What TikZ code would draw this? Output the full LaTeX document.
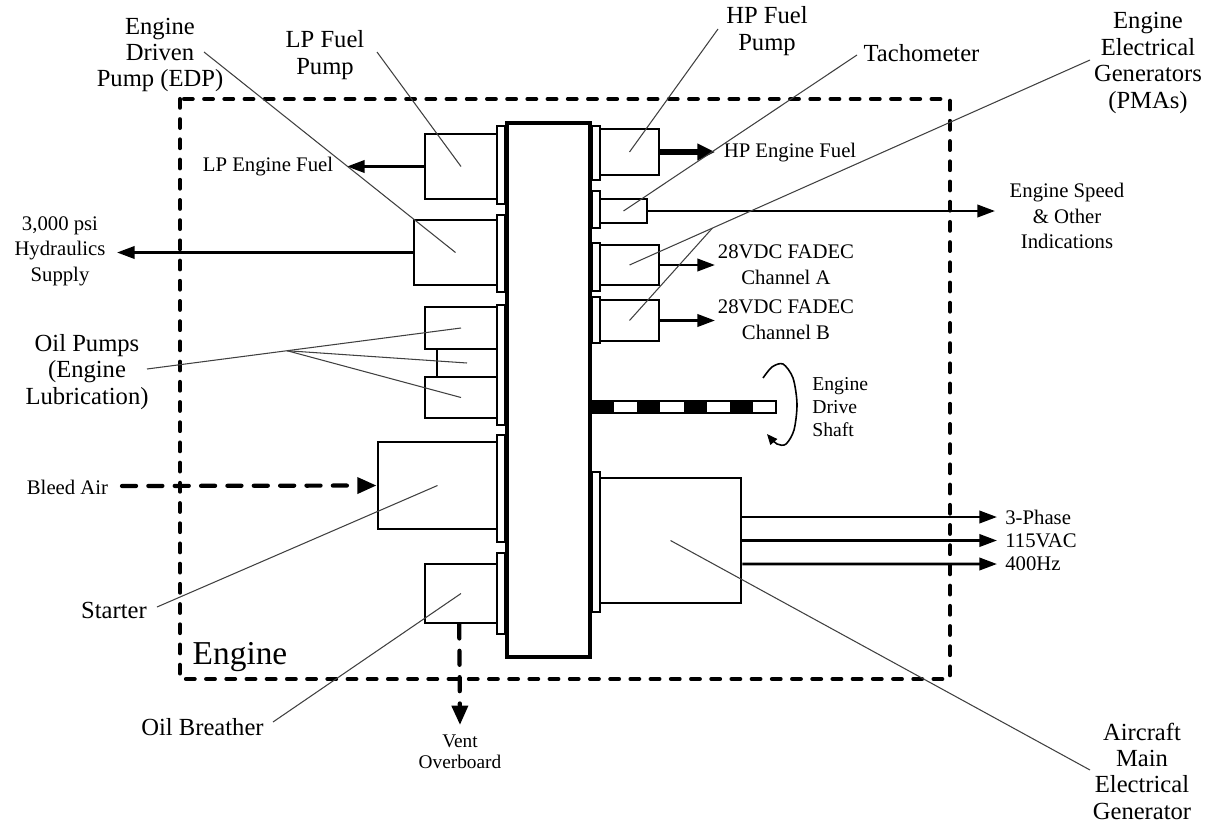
\documentclass[tikz,border=0pt]{standalone}
\usepackage{fontspec}
\setmainfont{Liberation Serif}
\usetikzlibrary{arrows.meta,calc}

\begin{document}
\begin{tikzpicture}[
  x=0.02cm, y=-0.02cm,
  big/.style={font=\fontsize{14}{15}\selectfont, align=center, inner sep=0pt},
  sml/.style={font=\fontsize{11.8}{14.5}\selectfont, align=center, inner sep=0pt},
  sz/.style 2 args={minimum width=#1*0.02cm, minimum height=#2*0.02cm},
  unit/.style={draw, fill=white, line width=1.6pt, inner sep=0pt},
  flange/.style={draw, fill=white, line width=1.2pt, inner sep=0pt},
  arr/.style={-{Triangle[length=10pt,width=7pt]}, line width=1.5pt},
  fatarr/.style={-{Triangle[length=10pt,width=9pt]}, line width=3pt},
  dasharr/.style={-{Triangle[length=11pt,width=9pt]}, line width=2.4pt,
                  line cap=round, dash pattern=on 8pt off 7pt},
  lead/.style={draw=black!75, line width=0.6pt},
]
\useasboundingbox (0,0) rectangle (1207,825);

% engine boundary
\draw[line width=2.3pt, line cap=round, dash pattern=on 5pt off 6.5pt]
  (180,99) rectangle (950,679);
\node[font=\fontsize{19}{20}\selectfont, inner sep=0pt] (englbl) at (240,657) {Engine};

% gearbox and mounting pads
\node[unit, sz={83}{534}, line width=2.5pt] (gbox) at (548.5,390) {};
\node[flange, sz={8}{78}]  (pl1) at (501,165) {};
\node[flange, sz={8}{77}]  (pl2) at (501,253.5) {};
\node[flange, sz={8}{120}] (pl3) at (501,365) {};
\node[flange, sz={8}{107}] (pl4) at (501,488.5) {};
\node[flange, sz={8}{81}]  (pl5) at (501,593.5) {};
\node[flange, sz={8}{54}]  (pr1) at (596,153) {};
\node[flange, sz={8}{37}]  (pr2) at (596,209.5) {};
\node[flange, sz={8}{48}]  (pr3) at (596,267) {};
\node[flange, sz={8}{46}]  (pr4) at (596,320) {};
\node[flange, sz={8}{140}] (pr5) at (596,542) {};

% accessories, left side
\node[unit, sz={72}{65}]  (lpf)  at (461,166.5) {};
\node[unit, sz={83}{65}]  (edp)  at (455.5,252.5) {};
\node[unit, sz={60}{28}]  (oil2) at (467,363) {};
\node[unit, sz={72}{42}]  (oil1) at (461,328) {};
\node[unit, sz={72}{41}]  (oil3) at (461,397.5) {};
\node[unit, sz={119}{87}] (strt) at (437.5,485.5) {};
\node[unit, sz={72}{59}]  (brth) at (461,593.5) {};

% accessories, right side
\node[unit, sz={59}{46}]   (hpf)  at (629.5,152) {};
\node[unit, sz={47}{24}]   (tach) at (623.5,211) {};
\node[unit, sz={59}{40}]   (pmaa) at (629.5,265) {};
\node[unit, sz={59}{41}]   (pmab) at (629.5,320.5) {};
\node[unit, sz={141}{125}] (gen)  at (670.5,540.5) {};

% drive shaft
\fill[white] (591,401) rectangle (776,413);
\foreach \i in {0,2,4,6}
  \fill (591+23.125*\i,401) rectangle ++(23.125,12);
\draw[line width=1pt] (591,401) rectangle (776,413);
\draw[line width=0.9pt, -{Triangle[length=6pt,width=5pt]}]
  plot[smooth] coordinates {(763,378) (772,367) (783,364) (793,378) (797,404)
                            (794,430) (786,444) (777,444) (767,434)};
\node[sml, font=\fontsize{11.2}{13}\selectfont, align=left, anchor=west] (shaftlbl)
  at (812,407) {Engine\\Drive\\Shaft};

% outputs
\coordinate (lpf-t)  at (347,166.5);
\coordinate (hyd-t)  at (117,252.5);
\coordinate (hpf-t)  at (715,152);
\coordinate (tach-t) at (995,211);
\coordinate (pmaa-t) at (715,265);
\coordinate (pmab-t) at (715,320.5);
\coordinate (bld-s)  at (122,486);
\coordinate (vent-t) at (460,725);
\draw[arr] (lpf.west) -- (lpf-t);
\draw[arr] (edp.west) -- (hyd-t);
\draw[fatarr] (hpf.east) -- (hpf-t);
\draw[arr] (tach.east) -- (tach-t);
\draw[arr] (pmaa.east) -- (pmaa-t);
\draw[arr] (pmab.east) -- (pmab-t);
\draw[arr] ($(gen.east)+(0,-23.5)$) -- (997,517);
\draw[arr] (gen.east) -- (997,540.5);
\draw[arr] ($(gen.east)+(0,23.5)$) -- (997,564);
\draw[dasharr] (bld-s) -- (strt.west);
\draw[dasharr] ([xshift=-1pt]brth.south) -- (vent-t);

\node[sml] (lpflbl)  at (268,167) {LP Engine Fuel};
\node[sml] (hydlbl)  at (60,251) {3,000 psi\\Hydraulics\\Supply};
\node[sml] (hpflbl)  at (790,153) {HP Engine Fuel};
\node[sml] (spdlbl)  at (1067,216) {Engine Speed\\\& Other\\Indications};
\node[sml] (chalbl)  at (786,264.5) {28VDC FADEC\\Channel A};
\node[sml] (chblbl)  at (786,319.5) {28VDC FADEC\\Channel B};
\node[sml] (bldlbl)  at (67.5,487) {Bleed Air};
\node[sml, font=\fontsize{11}{12}\selectfont] (ventlbl) at (460,752) {Vent\\Overboard};
\node[sml, anchor=west] (ph1) at (1005,517) {3-Phase};
\node[sml, anchor=west] (ph2) at (1005,540.5) {115VAC};
\node[sml, anchor=west] (ph3) at (1005,564) {400Hz};

% component names
\node[big] (edplbl)  at (160,55) {Engine\\Driven\\Pump (EDP)};
\node[big] (lpfname) at (325,55) {LP Fuel\\Pump};
\node[big] (hpfname) at (767,31) {HP Fuel\\Pump};
\node[big] (tachlbl) at (921.5,53) {Tachometer};
\node[big] (pmalbl)  at (1148,63) {Engine\\Electrical\\Generators\\(PMAs)};
\node[big] (oillbl)  at (87,372) {Oil Pumps\\(Engine\\Lubrication)};
\node[big] (strtlbl) at (114,610) {Starter};
\node[big] (brthlbl) at (202.5,727) {Oil Breather};
\node[big] (genlbl)  at (1142,771) {Aircraft\\Main\\Electrical\\Generator};

% leaders
\coordinate (edp-l)  at (204,52);
\coordinate (lpf-l)  at (377,52);
\coordinate (hpf-l)  at (718,29);
\coordinate (tach-l) at (857,55);
\coordinate (pma-l)  at (1090,60);
\coordinate (pma-j)  at ($(pma-l)!0.82!(pmaa.center)$);
\coordinate (oil-l)  at (147,369);
\coordinate (oil-j)  at ($(oil-l)!0.446!(oil1.center)$);
\coordinate (strt-l) at (157,607);
\coordinate (brth-l) at (273,722);
\coordinate (gen-l)  at (1090,770);
\draw[lead] (edp-l) -- (edp.center);
\draw[lead] (lpf-l) -- (lpf.center);
\draw[lead] (hpf-l) -- (hpf.center);
\draw[lead] (tach-l) -- (tach.center);
\draw[lead] (pma-l) -- (pmaa.center);
\draw[lead] (pma-j) -- (pmab.center);
\draw[lead] (oil-l) -- (oil1.center);
\draw[lead] (oil-j) -- (oil2.center);
\draw[lead] (oil-j) -- (oil3.center);
\draw[lead] (strt-l) -- (strt.center);
\draw[lead] (brth-l) -- (brth.center);
\draw[lead] (gen-l) -- (gen.center);
\end{tikzpicture}
\end{document}
